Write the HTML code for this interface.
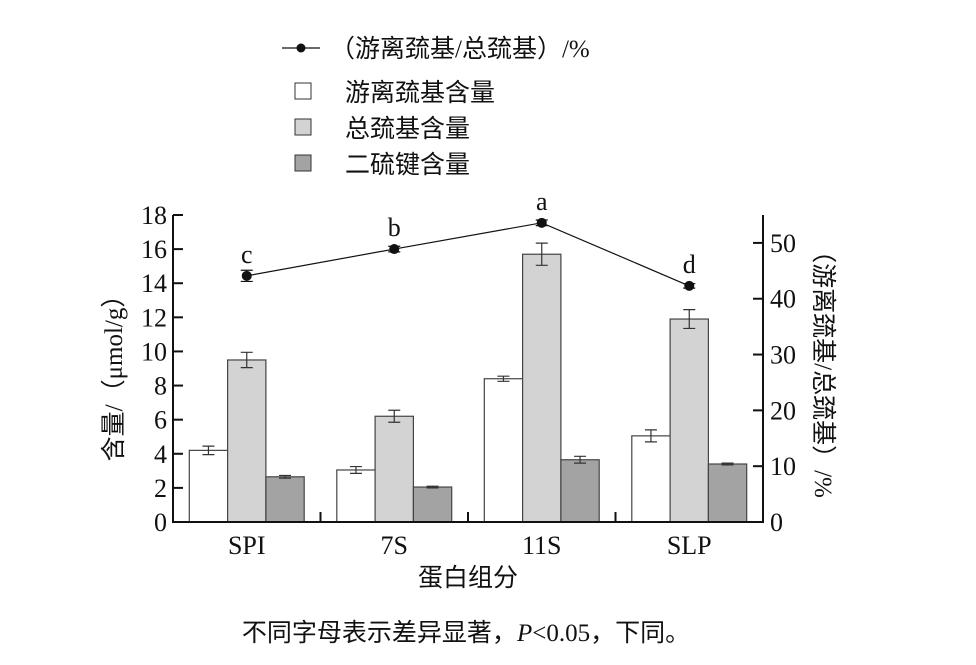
<!DOCTYPE html>
<html><head><meta charset="utf-8"><style>
body{margin:0;background:#fff}
text{font-family:"Liberation Serif","Noto Serif CJK SC",serif;fill:#111}
.cj{font-family:"Liberation Serif","Noto Sans CJK SC",sans-serif}
</style></head><body>
<svg id="chart" width="976" height="660" viewBox="0 0 976 660" xmlns="http://www.w3.org/2000/svg">
<g id="legend">
<g><line x1="282" y1="48" x2="320" y2="48" stroke="#111" stroke-width="1.3"/><circle cx="301" cy="48" r="4.5" fill="#111"/><text class="cj" x="330" y="57" font-size="25">（游离巯基/总巯基）/%</text></g>
<g><rect x="295" y="83" width="16" height="16" fill="#fff" stroke="#333"/><text class="cj" x="345" y="101" font-size="25">游离巯基含量</text></g>
<g><rect x="295" y="119" width="16" height="16" fill="#d3d3d3" stroke="#333"/><text class="cj" x="345" y="137" font-size="25">总巯基含量</text></g>
<g><rect x="295" y="155" width="16" height="16" fill="#a3a3a3" stroke="#333"/><text class="cj" x="345" y="173" font-size="25">二硫键含量</text></g>
</g>
<g id="plot"></g>
<text class="cj" x="468" y="586" font-size="25" text-anchor="middle">蛋白组分</text>
<text class="cj" transform="translate(122,372) rotate(-90)" font-size="25" text-anchor="middle">含量/（μmol/g）</text>
<text class="cj" transform="translate(815,368) rotate(90)" font-size="25" text-anchor="middle">（游离巯基/总巯基）/%</text>
<text class="cj" x="466" y="641" font-size="25" text-anchor="middle">不同字母表示差异显著，<tspan font-style="italic">P</tspan>&lt;0.05，下同。</text>
</svg>
<script>
const categories=["SPI","7S","11S","SLP"];
const freeSH=[4.2,3.05,8.4,5.05];
const freeErr=[0.25,0.2,0.15,0.35];
const totalSH=[9.5,6.2,15.7,11.9];
const totalErr=[0.45,0.35,0.65,0.55];
const disulfide=[2.65,2.05,3.65,3.4];
const disErr=[0.08,0.05,0.2,0.05];
const ratio=[44.1,48.9,53.6,42.3];
const ratioErr=[1.0,0.5,0.5,0.4];
const letters=["c","b","a","d"];
const yTicks=[0,2,4,6,8,10,12,14,16,18];
const y2Ticks=[0,10,20,30,40,50];

const NS="http://www.w3.org/2000/svg";
const X0=173,X1=763,Y0=522,Y18=215;
const y=v=>Y0-(v/18)*(Y0-Y18);
const y2=v=>Y0-(v/55)*(Y0-Y18);
const gw=(X1-X0)/categories.length;
const cx=i=>X0+gw*(i+0.5);
const plot=document.getElementById('plot');
function mk(tag,attrs,parent){const e=document.createElementNS(NS,tag);for(const k in attrs)e.setAttribute(k,attrs[k]);(parent||plot).appendChild(e);return e;}
function txt(s,attrs){const t=mk('text',attrs);t.textContent=s;return t;}

const series=[[freeSH,freeErr,"#fff","free-sh"],[totalSH,totalErr,"#d3d3d3","total-sh"],[disulfide,disErr,"#a3a3a3","disulfide"]];
const bw=38.3;
categories.forEach((c,i)=>{
  series.forEach((s,j)=>{
    const v=s[0][i],e=s[1][i];
    const bx=cx(i)-1.5*bw+j*bw;
    const r=mk('rect',{x:bx,y:y(v),width:bw,height:Y0-y(v),fill:s[2],stroke:"#444","stroke-width":1.2});
    
    
    const m=bx+bw/2;
    const eb=mk('path',{d:`M${m},${y(v+e)}V${y(v-e)}M${m-6},${y(v+e)}H${m+6}M${m-6},${y(v-e)}H${m+6}`,stroke:"#333","stroke-width":1.2,fill:"none"});
    
    
  });
  const l=txt(c,{x:cx(i),y:554,"font-size":26,"text-anchor":"middle"});
  
  
});
// line
const pts=ratio.map((v,i)=>cx(i)+","+y2(v)).join(" ");
const pl=mk('polyline',{points:pts,fill:"none",stroke:"#111","stroke-width":1.2});


ratio.forEach((v,i)=>{
  const e=ratioErr[i],m=cx(i);
  mk('path',{d:`M${m},${y2(v+e)}V${y2(v-e)}M${m-6},${y2(v+e)}H${m+6}M${m-6},${y2(v-e)}H${m+6}`,stroke:"#111","stroke-width":1.2});
  const p=mk('circle',{cx:m,cy:y2(v),r:5,fill:"#111"});
  
  
  const t=txt(letters[i],{x:m,y:y2(v)-13,"font-size":26,"text-anchor":"middle"});
  
  
});
// axes
const ax=mk('path',{d:`M${X0},${Y18}V${Y0}H${X1}V${Y18}`,fill:"none",stroke:"#111","stroke-width":2});


for(let i=1;i<categories.length;i++){mk('line',{x1:X0+gw*i,x2:X0+gw*i,y1:Y0,y2:Y0-10,stroke:"#111","stroke-width":2});}
yTicks.forEach(v=>{
  mk('line',{x1:X0,x2:X0+10,y1:y(v),y2:y(v),stroke:"#111","stroke-width":2});
  const t=txt(v,{x:X0-6,y:y(v)+9,"font-size":26,"text-anchor":"end"});
  
  
});
y2Ticks.forEach(v=>{
  mk('line',{x1:X1-10,x2:X1,y1:y2(v),y2:y2(v),stroke:"#111","stroke-width":2});
  const t=txt(v,{x:X1+7,y:y2(v)+9,"font-size":26});
  
  
});
</script>
</body></html>
